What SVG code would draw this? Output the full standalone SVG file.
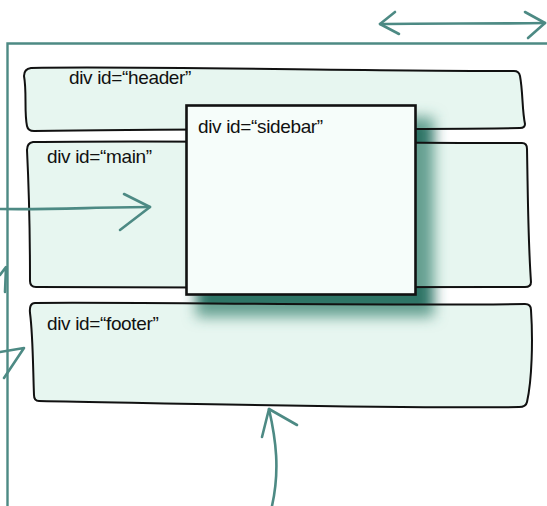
<svg xmlns="http://www.w3.org/2000/svg" width="547" height="506" viewBox="0 0 547 506">
  <style>
    .ink { fill: none; stroke: #4d8a84; stroke-width: 2.6; stroke-linecap: round; stroke-linejoin: round; }
    .box { fill: #bfe8d8; fill-opacity: 0.38; stroke: #111; stroke-width: 2; stroke-linejoin: round; }
    .label { font-family: "Liberation Sans", Arial, sans-serif; font-size: 19px; fill: #111; letter-spacing: -0.35px; }
  </style>
  <defs>
    <filter id="soft" x="-30%" y="-30%" width="160%" height="160%">
      <feGaussianBlur stdDeviation="7"/>
    </filter>
  </defs>
  <rect width="547" height="506" fill="#fff"/>

  <!-- page frame -->
  <path d="M7.5,506 L7.5,43.5 L547,43.5" fill="none" stroke="#4d8a84" stroke-width="2.4"/>

  <!-- shadow cast by the floating sidebar -->
  <rect x="196" y="117" width="238" height="200" fill="#2f7566" filter="url(#soft)"/>

  <g id="header">
    <path class="box" d="M31,68 C140,66 360,71 514,71 Q519,71 520,76 C523,92 522,110 525,124 Q525,128 520,128 C400,130 200,128 34,131 Q28,131 27,126 C24,112 27,92 24,76 Q24,69 31,68 Z"/>
    <text class="label" x="69" y="84">div id=“header”</text>
  </g>

  <g id="main">
    <path class="box" d="M33,142 C150,140 380,143 522,143 Q527,143 527,149 C528,200 528,240 531,282 Q531,287 525,287 C400,287 200,288 36,287 Q30,287 30,281 C30,240 29,190 27,150 Q27,143 33,142 Z"/>
    <text class="label" x="47" y="163">div id=“main”</text>
  </g>

  <g id="footer">
    <path class="box" d="M35,303 C150,302 380,306 525,304 Q531,304 531,310 C533,340 532,380 527,402 Q526,407 519,407 C400,409 200,404 39,401 Q34,401 34,395 C33,370 33,335 30,313 Q29,303 35,303 Z"/>
    <text class="label" x="47" y="330">div id=“footer”</text>
  </g>

  <g id="sidebar">
    <rect x="186.5" y="105.5" width="229" height="189" fill="#f6fdfa" stroke="#111" stroke-width="2.6"/>
    <text class="label" x="198" y="133">div id=“sidebar”</text>
  </g>

  <g id="connectors">
    <!-- width span -->
    <path class="ink" d="M380,24 C430,23 490,24 545,23"/>
    <path class="ink" d="M395,12 L380,24 L399,34"/>
    <path class="ink" d="M525,12 L545,23 L528,38"/>
    <!-- arrow into main -->
    <path class="ink" d="M0,209 C50,210 100,207 150,207"/>
    <path class="ink" d="M124,194 L150,207 L120,230"/>
    <!-- arrow up to footer -->
    <path class="ink" d="M272,506 C280,470 276,440 269,409"/>
    <path class="ink" d="M262,437 L269,409 L297,425"/>
    <!-- partial arrows at the left edge -->
    <path class="ink" d="M0,275 L6,267 L5,292"/>
    <path class="ink" d="M0,352 L24,348 L4,378"/>
  </g>
</svg>
